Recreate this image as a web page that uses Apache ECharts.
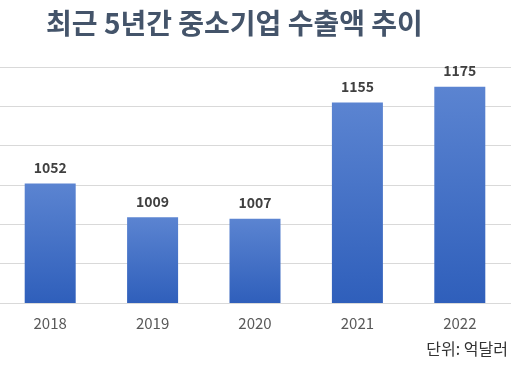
<!DOCTYPE html>
<html>
<head>
<meta charset="utf-8">
<script src="https://cdn.jsdelivr.net/npm/echarts@6/dist/echarts.min.js"></script>
<style>
html,body{margin:0;padding:0;background:#fff;}
#chart{width:511px;height:368px;}
</style>
</head>
<body>
<div id="chart"></div>
<script>
const titleText = '최근 5년간 중소기업 수출액 추이';
const unitText = '단위: 억달러';
const years = ['2018', '2019', '2020', '2021', '2022'];
const exportValues = [1052, 1009, 1007, 1155, 1175];

const FONT = '"Noto Sans CJK KR", "Noto Sans", sans-serif';
const chart = echarts.init(document.getElementById('chart'), null, {renderer: 'canvas'});
chart.setOption({
  backgroundColor: '#ffffff',
  animation: false,
  title: {
    text: titleText,
    left: 41,
    top: 4,
    textStyle: {fontFamily: FONT, fontSize: 28, fontWeight: 'bold', color: '#44546a'}
  },
  graphic: [{
    type: 'text',
    right: 3,
    top: 341,
    style: {text: unitText, fontFamily: FONT, fontSize: 16, fill: '#333333'}
  }],
  grid: {left: -1, right: 0, top: 67, bottom: 65, containLabel: false, outerBoundsMode: 'none'},
  xAxis: {
    type: 'category',
    data: years,
    axisLine: {show: true, lineStyle: {color: '#d9d9d9', width: 1}},
    axisTick: {show: false},
    axisLabel: {fontFamily: FONT, fontSize: 15, color: '#595959', margin: 13}
  },
  yAxis: {
    type: 'value',
    min: 900,
    max: 1200,
    interval: 50,
    axisLine: {show: false},
    axisTick: {show: false},
    axisLabel: {show: false},
    splitLine: {lineStyle: {color: '#d9d9d9', width: 1}}
  },
  series: [{
    type: 'bar',
    data: exportValues,
    barWidth: 51,
    itemStyle: {
      color: new echarts.graphic.LinearGradient(0, 0, 0, 1, [
        {offset: 0, color: '#5b84d1'},
        {offset: 1, color: '#2f5fbb'}
      ])
    },
    label: {
      show: true,
      position: 'top',
      distance: 9,
      fontFamily: FONT,
      fontSize: 14,
      fontWeight: 'bold',
      color: '#404040'
    }
  }]
});
</script>
</body>
</html>
